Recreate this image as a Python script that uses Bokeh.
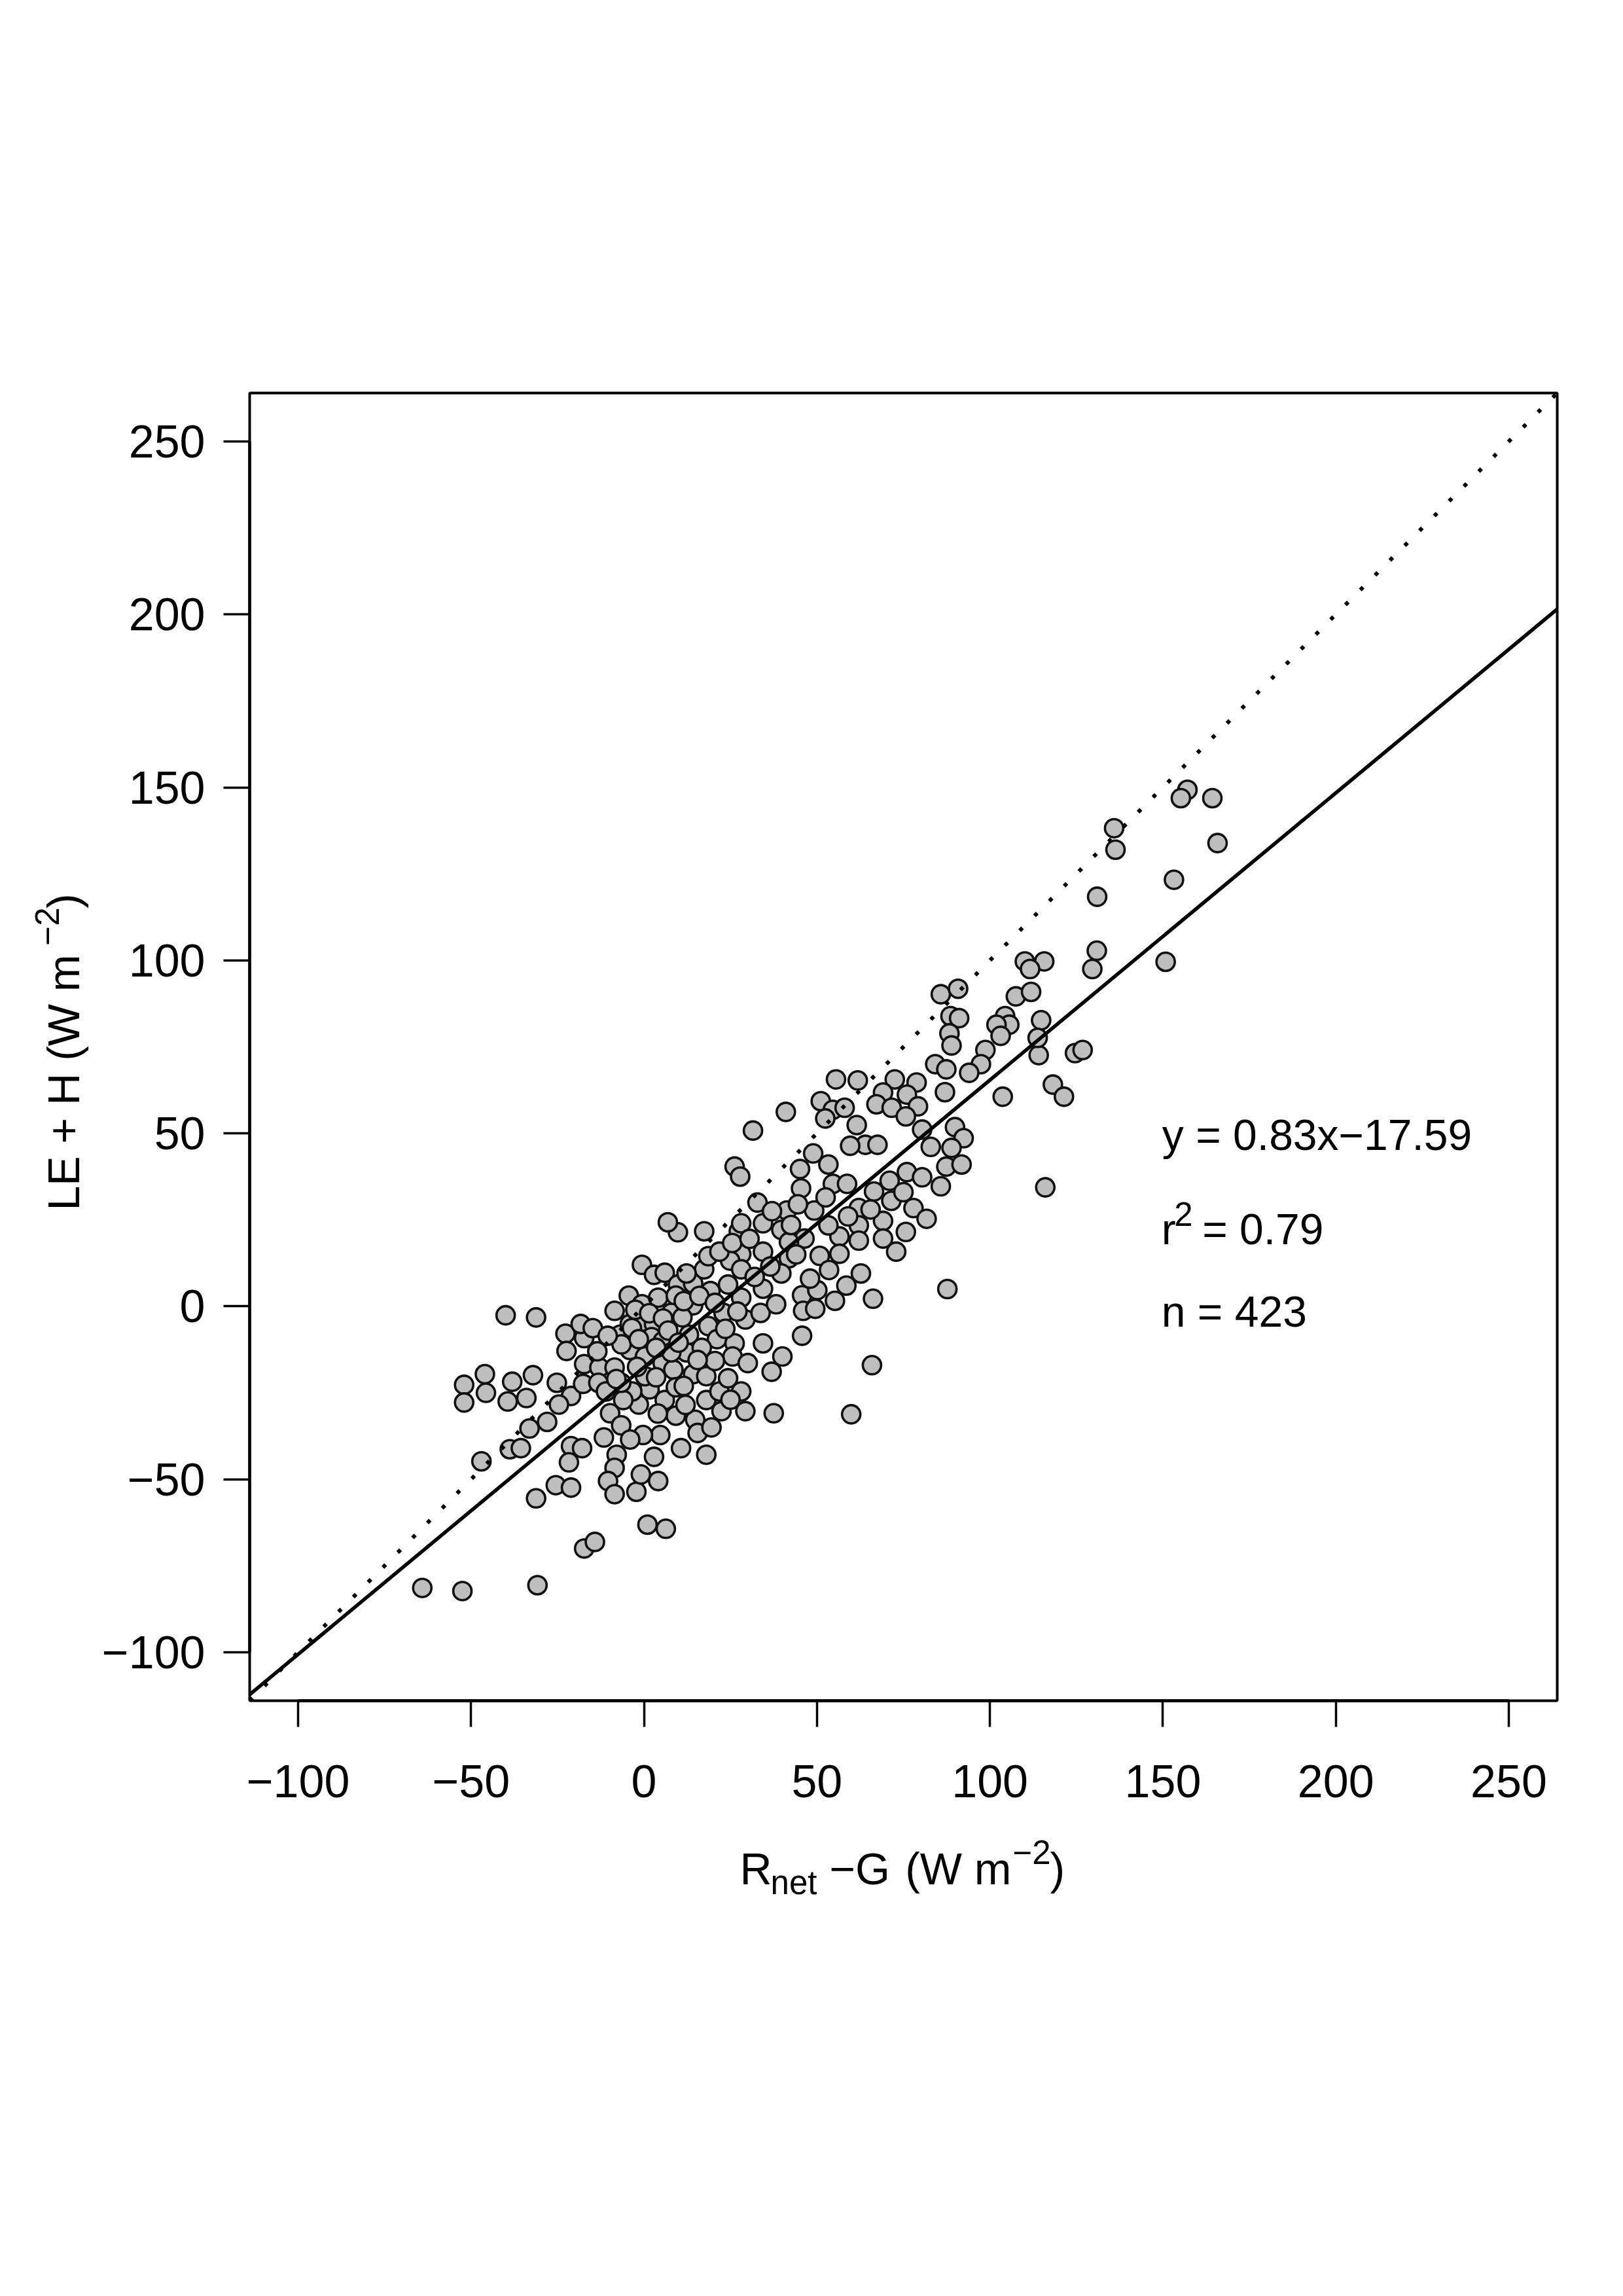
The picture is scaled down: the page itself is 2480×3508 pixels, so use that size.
import math
from bokeh.plotting import figure
from bokeh.models import Range1d, FixedTicker, Label, ColumnDataSource
from bokeh.embed import file_html
from bokeh.resources import INLINE

# ---- data (R_net - G vs LE + H, W m-2) ----
rnet_minus_g = [
    9.8, 17.4, 27.4, 28.1, -0.6, 2.9, 6.0, 9.8, 14.2, 17.4, 24.9, 28.1, -4.4, -0.6, 4.1, 9.2,
    14.2, 7.9, 23.0, 18.6, 28.1, 29.3, 21.1, 26.2, 25.6, 30.0, -8.5, -6.9, -4.1, -0.3, 2.9, 2.2,
    -4.1, 0.3, 5.4, 8.5, 12.3, 14.2, 18.0, 18.0, 21.8, 22.4, 29.3, 14.8, 15.5, 18.0, 10.7, 4.7,
    6.0, 1.6, -1.5, -3.4, -6.0, -9.8, -6.6, -0.3, 2.9, -7.9, -8.5, -10.4, -8.5, -2.2, -0.9, 4.1,
    -11.6, -21.1, -17.9, -21.7, -25.5, -21.1, -31.2, 1.0, 6.3, -17.3, -14.2, -52.0, -52.0, -46.0,
    -45.7, -38.1, -39.4, -32.1, -34.0, -40.0, -31.2, -22.7, -17.3, -18.3, -14.8, -22.4, -17.3,
    -12.9, -8.5, -25.2, -21.1, -24.6, -17.6, -13.2, -33.1, -28.0, -38.8, -35.6, -47.0, 9.2, 9.2,
    -64.1, -52.5, -30.8, 5.4, 11.1, 13.0, 16.7, 20.5, 24.3, 28.1, 7.9, 0.3, -6.6, -11.0, -3.5,
    19.2, 24.3, 18.6, 12.3, 21.8, 25.5,
    31.5, 26.2, 27.8, 6.9, 28.1,
    45.1, 45.4, 32.8, 41.3, 39.7, 34.4, 41.9, 39.7, 34.4, 34.4, 45.7, 33.7, 46.0, 45.7, 40.0,
    36.9, 34.4, 37.5, 46.4, 41.9, 38.2, 50.1, 55.2, 66.2, 62.7, 87.7, 65.9, 59.9, 49.5,
    61.5, 64.0, 59.6, 67.5, 48.9, 53.3, 54.6, 58.7, 66.5, 71.0, 76.0, 80.4, 85.8, 82.9, 87.4,
    77.9, 81.7, 75.7, 72.9, 62.1, 69.1, 62.1, 56.5, 62.1, 50.8, 56.5, 69.1, 80.4, 49.2, 53.3,
    55.5, 61.8, 72.5, 78.8, 69.1, 76.0, 67.2, 71.6, 79.2, 51.1, 54.6, 58.0, 52.4, 87.0, 85.8,
    84.2, 87.4, 75.7, 41.0,
    130.9, 129.6, 110.1, 115.7, 111.6, 107.5, 111.9, 90.8, 88.6, 91.1, 88.3, 88.9, 104.4, 105.6,
    101.9, 103.1, 98.7, 97.4, 94.0, 114.8, 114.1, 113.8, 124.6, 126.8, 118.2, 121.4, 103.7,
    116.0, 89.9, 92.4, 88.9, 91.8,
    157.1, 155.2, 164.3, 135.9, 136.3, 165.8, 153.2, 131.0, 150.8,
    -2.5, 1.5, 5.5, 11.5, 16.0, 20.5, -6.5, -1.5, 7.0, 10.0, 15.5, 3.5, -2.0, 3.5, 11.5, -8.0,
    -13.5, -10.5, 23.5, 27.0, 32.0, 36.5, 30.5, 37.0, 42.5, 44.0, 48.0, 53.5, 58.5, 59.0, 65.5,
    52.5, 44.5, 71.5, 75.0, 12.0, 4.0, -4.0, 19.5, 25.0,
]
le_plus_h = [
    21.4, 21.7, 21.7, 15.1, 12.0, 9.1, 9.7, 6.3, 6.6, 10.7, 13.2, 10.7, 3.1, 0.6, 2.5, 3.1,
    0.3, -1.9, -1.9, -5.7, 2.5, -3.8, -9.5, -10.7, -14.5, -16.4, -1.3, -8.2, -5.1, -4.4, -5.1, -8.9,
    -12.6, -14.5, -16.4, -18.3, -13.3, -19.6, -20.2, -27.1, -24.6, -30.3, -30.3, -32.8, -36.6, -42.9, -41.0, -37.2,
    -27.1, -24.0, -28.4, -24.6, -27.1, -30.9, -34.4, -37.2, -43.5, -42.9, -46.7, -50.5, -54.3, -53.6, -48.6, -50.5,
    -37.9, -40.4, -41.0, -45.1, -51.7, -52.4, -55.5, -63.1, -64.3, -70.0, -68.1, -22.7, -27.8, -19.6,
    -25.0, -21.8, -27.5, -19.9, -26.5, -2.6, -3.2, -7.9, -9.2, -5.1, -6.3, -12.9, -16.7,
    -17.7, -17.7, -22.1, -25.9, -28.4, -22.4, -22.1, -35.3, -33.4, -41.3, -41.0, -44.8, -31.6, -23.4,
    -81.4, -82.3, -80.6, -10.1, -3.2, -8.2, -12.0, -15.8, -20.8, -24.6, -13.3, -20.2, -22.1, -24.6, -6.3,
    4.4, 6.3, 14.5, 9.5, 15.8, 18.3,
    50.8, 40.4, 37.5, 24.3, 24.0,
    39.7, 34.1, 30.0, 27.7, 22.1, 24.0, 13.9, 9.5, 15.8, 5.1, 3.2, -1.9, -1.3, -8.5, -14.5,
    -18.9, -10.7, -30.9, 19.6, 18.6, 0.6, 4.7, 1.6, 2.2, 9.5, 5.0, -17.0, -31.2, -0.7,
    52.4, 46.7, 46.4, 46.7, 44.2, 41.0, 35.4, 35.4, 33.2, 36.3, 38.8, 37.3, 34.7, 46.1, 40.4,
    28.4, 25.3, 21.5, 15.8, 28.4, 24.7, 23.4, 20.2, 19.0, 14.6, 15.2, 19.6, 51.1, 27.7, 23.4,
    65.6, 65.3, 65.6, 64.7, 61.8, 61.2, 58.4, 57.4, 57.8, 59.3, 56.8, 57.4, 54.3, 61.9, 90.2,
    70.0, 68.5, 54.9, 56.2,
    102.8, 97.5, 99.7, 99.7, 97.5, 89.6, 90.9, 91.8, 83.9, 83.3, 78.9, 75.4, 83.9, 81.4,
    81.4, 78.2, 74.1, 70.0, 67.5, 82.7, 72.6, 77.6, 73.2, 74.1, 64.1, 60.6, 60.6,
    34.4, 51.8, 48.6, 45.8, 41.0,
    149.3, 146.9, 146.9, 138.2, 132.0, 133.9, 123.3, 118.4, 99.6,
    -1.0, -2.0, -3.5, 1.5, 3.0, 1.0, -11.0, -9.5, -7.0, -10.5, -15.5, -12.0, -17.5, -20.5, -23.0, -21.0,
    -13.0, -8.5, -6.5, -1.5, 8.5, 11.5, 19.5, 27.5, 23.5, 15.0, 8.0, 10.5, 6.0, 26.0, 28.0,
    31.5, 29.5, 30.5, 33.0, -28.5, -31.0, -38.5, -35.0, -27.0,
]

tick_values = [-100, -50, 0, 50, 100, 150, 200, 250]
tick_labels = ["\u2212100", "\u221250", "0", "50", "100", "150", "200", "250"]

fit_slope = 0.83
fit_intercept = -17.59
r_squared = 0.79
n_obs = 423

# axis limits as R draws them: tick span widened by 4 % on each side
span = tick_values[-1] - tick_values[0]
lo = tick_values[0] - 0.04 * span
hi = tick_values[-1] + 0.04 * span

# ---- page geometry (pixels) ----
PAGE_W, PAGE_H, MARGIN = 2480, 3508, 8
CANVAS_W, CANVAS_H = PAGE_W - 2 * MARGIN, PAGE_H - 2 * MARGIN
BOX_LEFT, BOX_BOTTOM = 389, 2606          # page pixels of the plot box corner
PX = 1998 / (hi - lo)                      # pixels per data unit
x0 = lo - (BOX_LEFT - MARGIN) / PX
y1 = lo + (BOX_BOTTOM - MARGIN) / PX

FONT = "Liberation Sans"
TICK = 70
TXT = 66
LAB = 68
SCR = 51

p = figure(
    frame_width=CANVAS_W, frame_height=CANVAS_H,
    x_range=Range1d(x0, x0 + CANVAS_W / PX), y_range=Range1d(y1 - CANVAS_H / PX, y1),
    min_border=0, min_border_left=0, min_border_right=0, min_border_top=0, min_border_bottom=0,
    output_backend="svg", toolbar_location=None,
    background_fill_color="white", border_fill_color="white",
)
p.grid.visible = False
p.outline_line_color = None

for ax in (p.xaxis[0], p.yaxis[0]):
    ax.fixed_location = lo
    ax.ticker = FixedTicker(ticks=tick_values)
    ax.major_label_overrides = {v: s for v, s in zip(tick_values, tick_labels)}
    ax.bounds = (tick_values[0], tick_values[-1])
    ax.major_tick_in = 0
    ax.major_tick_out = 40
    ax.minor_tick_line_color = None
    ax.major_tick_line_width = 3.5
    ax.major_tick_line_color = "black"
    ax.axis_line_width = 4.5
    ax.axis_line_color = "black"
    ax.major_label_text_font = FONT
    ax.major_label_text_font_size = f"{TICK}px"
    ax.major_label_text_color = "black"
p.xaxis.major_label_standoff = 58
p.yaxis.major_label_standoff = 28
p.yaxis.major_label_orientation = "horizontal"

# plot box
p.quad(left=[lo], right=[hi], bottom=[lo], top=[hi], fill_color=None,
       line_color="black", line_width=4)

src = ColumnDataSource(dict(x=rnet_minus_g, y=le_plus_h))
p.scatter("x", "y", source=src, marker="circle", size=28,
          fill_color="#bebebe", line_color="#111111", line_width=3.6)

# 1:1 line (dotted) and fitted regression line (solid), across the box
p.line([lo, hi], [lo, hi], line_color="black", line_width=6,
       line_dash="6 26", line_cap="butt")
p.line([lo, hi], [fit_slope * lo + fit_intercept, fit_slope * hi + fit_intercept],
       line_color="black", line_width=5.5)


def add_text(x, y, text, size, angle=0.0):
    p.add_layout(Label(x=x, y=y, text=text, text_font=FONT,
                       text_font_size=f"{size}px", text_color="black",
                       text_align="left", text_baseline="alphabetic", angle=angle))


# statistics block
add_text(149.8, 49.5, f"y = {fit_slope}x\u2212{abs(fit_intercept)}", TXT)
add_text(149.6, 22.3, "r", TXT)
add_text(153.3, 26.6, "2", SCR)
add_text(161.4, 22.3, f"= {r_squared}", TXT)
add_text(149.6, -1.5, f"n = {n_obs}", TXT)

# x axis title: R_net -G (W m^-2)
add_text(27.7, -162.6, "R", LAB)
add_text(36.6, -166.6, "net", SCR)
add_text(53.6, -162.6, "\u2212G", LAB)
add_text(75.5, -162.6, "(W m", LAB)
add_text(106.6, -157.8, "\u22122", SCR)
add_text(117.4, -162.6, ")", LAB)

# y axis title: LE + H (W m^-2), rotated
rot = math.pi / 2
add_text(-167.9, 27.7, "LE + H  (W m", LAB, rot)
add_text(-172.6, 104.3, "\u22122", SCR, rot)
add_text(-167.9, 115.0, ")", LAB, rot)

open("out.html", "w").write(file_html(p, INLINE))
